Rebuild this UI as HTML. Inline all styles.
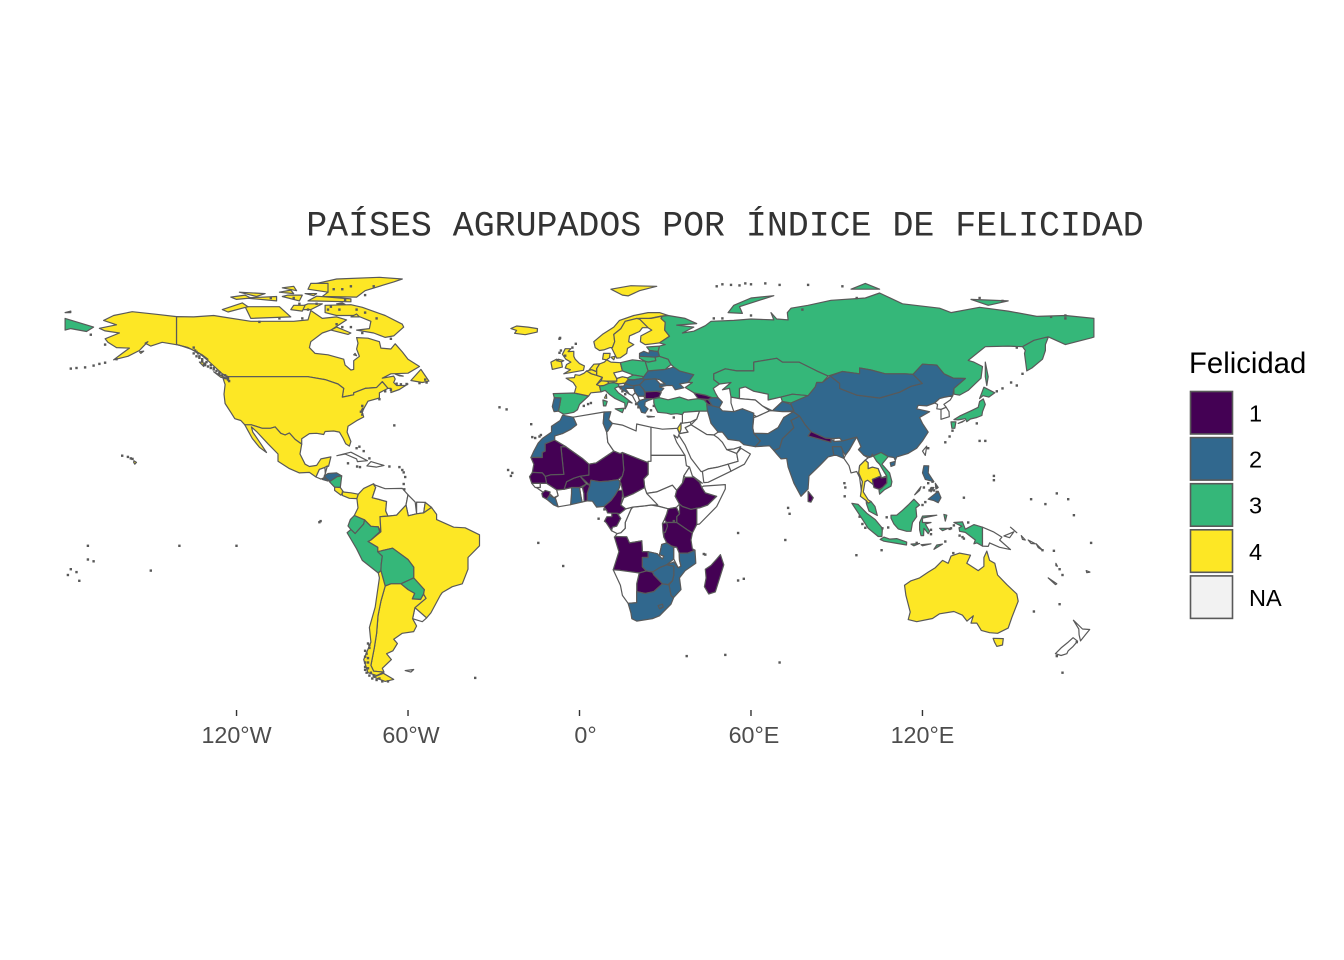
<!DOCTYPE html>
<html lang="es">
<head>
<meta charset="utf-8">
<title>Países agrupados por índice de felicidad</title>
<style>
html,body{margin:0;padding:0;background:#fff;}
svg{display:block;}
text{font-family:"Liberation Sans",sans-serif;}
</style>
</head>
<body>
<svg id="chart" width="1344" height="960" viewBox="0 0 1344 960" xmlns="http://www.w3.org/2000/svg">
  <rect width="1344" height="960" fill="#ffffff"/>
  <text x="725" y="235.5" text-anchor="middle" style="font-family:'Liberation Mono',monospace;font-size:34.9px" fill="#333">PAÍSES AGRUPADOS POR ÍNDICE DE FELICIDAD</text>
  <g id="map"></g>
  <g id="xaxis"></g>
  <g id="legend">
    <text x="1189" y="373" style="font-size:29.3px" fill="#000">Felicidad</text>
  </g>
</svg>
<script>
const legendLabels = ["1","2","3","4","NA"];
const legendColors = ["#440154","#31688E","#35B779","#FDE725","#F2F2F2"];
const tickLongitudes = [-120,-60,0,60,120];
const tickLabels = ["120°W","60°W","0°","60°E","120°E"];

const felicidad = {
  Mali:1,Mauritania:1,Senegal:1,Niger:1,Chad:1,BurkinaFaso:1,Benin:1,SierraLeone:1,Cameroon:1,Gabon:1,Ethiopia:1,Kenya:1,Uganda:1,Tanzania:1,Rwanda:1,Angola:1,Botswana:1,Madagascar:1,Bulgaria:1,Georgia:1,Armenia:1,Nepal:1,SriLanka:1,Cambodia:1,
  Morocco:2,Tunisia:2,Liberia:2,Ghana:2,Nigeria:2,Zambia:2,Zimbabwe:2,Mozambique:2,SouthAfrica:2,Lesotho:2,Portugal:2,Greece:2,Latvia:2,Hungary:2,Ukraine:2,Romania:2,Croatia:2,Serbia:2,Azerbaijan:2,Tajikistan:2,Iran:2,Pakistan:2,India:2,Bangladesh:2,China:2,Mongolia:2,Hainan:2,Philippines:2,Honduras:2,ElSalvador:2,
  Russia:3,Kazakhstan:3,Kyrgyzstan:3,Spain:3,Italy:3,Poland:3,Slovakia:3,Estonia:3,Lithuania:3,Belarus:3,Turkey:3,Vietnam:3,Malaysia:3,Indonesia:3,Japan:3,Nicaragua:3,Ecuador:3,Peru:3,Bolivia:3,Paraguay:3,
  USA:4,Canada:4,Mexico:4,CostaRica:4,Panama:4,Colombia:4,Brazil:4,Argentina:4,Chile:4,FrenchGuiana:4,France:4,Germany:4,Belgium:4,Netherlands:4,Switzerland:4,Austria:4,Denmark:4,UK:4,Ireland:4,Iceland:4,Norway:4,Sweden:4,Finland:4,Israel:4,Thailand:4,Australia:4
};

const shapes = {
Canada:"-141,69.6 -135,69.5 -128,70 -125,69.5 -115,68 -108,68 -100,68 -95,68.5 -94,71.7 -90,69 -85,69.5 -81.5,68.5 -87,65 -90,64 -94,61 -94.5,59 -92.5,57 -88,56.5 -82.5,55 -82,53 -80,51.3 -79,51.5 -79,54.5 -77,56 -78,58.5 -77.5,60.5 -78,62.4 -74,62.2 -70,61 -69.5,58.8 -66,58.5 -64.5,60.3 -62,57.5 -60,55 -56,52.5 -60,50.2 -66,50 -69,48.5 -65,49.2 -64.5,48.2 -65,47 -64,46 -61,46 -60,46.5 -63,44.6 -66,43.6 -66,45 -67,45 -69,47.3 -71,45.3 -75,45 -79,43.5 -79,42.8 -83,42 -82.5,45 -84.5,46.5 -89,48 -95,49 -123,49 -125,50 -130,54.5 -133,57 -137,59 -141,60|-80,73.7 -76,72.8 -68,70 -62,67 -61.5,66 -65,63 -68,62.5 -72,64 -78,65 -73.5,65.5 -73,68 -78,70 -85,70 -89,71 -89,73.5|-117,73 -105,73 -101,69.5 -115,69|-125,72 -118,74.3 -116,73 -123,71.2|-90,76.5 -78,76.3 -75,78.5 -65,81.5 -62,82.5 -70,83.1 -85,82.5 -92,81 -88,78|-95,75 -80,74.7 -80,75.7 -92,76.6|-95,79 -88,78 -88,81 -94,81|-95,74 -90,74 -94,72 -100,72|-117,76 -106,75 -106,76.5|-104,76.5 -98,75 -97,77 -102,77|-122,76.3 -117,77 -115,76 -120,75.5|-119,78 -110,77.5 -113,76.5|-104,79.5 -99,78.5 -100,80|-87,65 -81,63.5 -80,64 -85,66|-59,47.7 -55.5,51.5 -52.7,47.5 -55,47|-128,50.7 -123.5,48.4 -125.5,48.8|-133,54 -131.7,54 -131.5,52.5|-64.5,49.9 -61.7,49.2 -63,49.3|-80,69.5 -77,69.5 -78,70.5|-100,73.5 -96,73.5 -97,71.5 -101,72|-96,77.5 -92,77.5 -93,76.8|-79,56.5 -78,56.2 -78.5,57|-105,78 -100,77.5 -101,78.7|-85,74 -82,73.8 -83,74.3",
USA:"-123,49 -95,49 -89,48 -84.5,46.5 -82.5,45 -83,42 -79,42.8 -79,43.5 -75,45 -71,45.3 -69,47.3 -67,45 -70,43.5 -70,41.7 -74,40.6 -75.5,38 -76,36.8 -75.5,35.2 -78,33.9 -81,32 -81.3,30 -80,26.8 -80.5,25.2 -81.8,26 -82.8,28 -84,30 -86,30.4 -89,30.2 -89.5,29.2 -92,29.6 -94.5,29.5 -97.2,27.7 -97.2,25.9 -99.5,27.5 -101.5,29.7 -103,29 -104.5,29.6 -106.5,31.8 -108.2,31.3 -111,31.3 -114.8,32.5 -117.1,32.5 -118.5,34 -120.6,34.6 -122,36.8 -124,39.8 -124.4,43 -124,46.3 -124.7,48.4 -123,48.2|-141,69.6 -141,60 -137,59 -133,57 -130,55 -132,56.5 -136,58.5 -140,59.8 -146,60.8 -150,59.5 -152,60.5 -151,61 -153,59 -154,58 -158,56 -163,54.8 -160,57 -157.5,58.8 -162,59 -165,60.8 -166,62 -161,64 -166,64.7 -168,65.6 -162,66.8 -166.5,68.3 -163,70 -156.5,71.3 -148,70.4|-155.9,20.2 -155,19.6 -155.6,19 -156,19.6|-154,57.5 -152.5,57.8 -153.5,57",
Mexico:"-117.1,32.5 -114.8,32.5 -111,31.3 -108.2,31.3 -106.5,31.8 -104.5,29.6 -103,29 -101.5,29.7 -99.5,27.5 -97.2,25.9 -97.8,22.5 -96,19 -94.5,18.2 -92,18.6 -90.5,20.8 -87,21.5 -87.8,18.3 -89.1,17.9 -91,17.2 -92.2,14.6 -94.5,16.2 -98,16 -101.5,17.5 -105.5,20 -105.5,22.5 -109,26 -112.8,30 -114.8,31.8 -114.3,30 -111.5,26 -109.5,23 -112,24.8 -114.5,27.8 -116,30.5",
Guatemala:"-92.2,14.6 -91,17.2 -89.1,17.9 -88.9,15.9 -89.5,14.3 -90.5,13.9",
Belize:"-89.1,17.9 -88.2,18.4 -88.9,15.9",
Honduras:"-89.3,15 -88,15.8 -85,16 -83.2,15 -84.8,14.7 -87.3,13.1 -88.5,14",
ElSalvador:"-90,13.8 -88,13.2 -87.8,13.5 -89.3,14.4",
Nicaragua:"-87.5,13 -84.8,14.7 -83.2,15 -83.7,11 -85.7,11.1",
CostaRica:"-85.7,11.1 -83.7,11 -82.6,9.5 -83.5,8.4 -85.7,10",
Panama:"-83,9.5 -80,9.2 -77.4,8.7 -77.9,7.2 -80.5,7.3 -83,8.3",
Colombia:"-77.4,8.7 -75.5,10.7 -72,12.3 -71.3,11 -72.5,7.5 -70,6.9 -67.5,6.2 -67.8,3 -67,1.2 -69.8,1 -69.5,-4.2 -70.4,-2.5 -73,-2.3 -75.2,-0.1 -78.8,1.4 -77.5,4 -77.9,7.2",
Venezuela:"-72,12 -71.3,11 -72.5,7.5 -70,6.9 -67.5,6.2 -67.8,3 -67,1.2 -64,1.5 -60.7,5 -60,8.5 -62,10.7 -68,10.6",
Guyana:"-60,8.5 -60.7,5 -59.9,1.3 -57,2 -57.5,6",
Suriname:"-57,6 -57,2 -54.5,2.3 -54,5.9",
FrenchGuiana:"-54,5.9 -54.5,2.3 -51.8,4.2",
Brazil:"-51.8,4.2 -54.5,2.3 -57,2 -59.9,1.3 -60.7,5 -64,1.5 -67,1.2 -69.8,1 -69.5,-4.2 -73,-7 -74,-7.5 -70.6,-9.5 -70.6,-11 -65.4,-9.8 -60,-13.7 -58,-16.3 -58,-20 -54.3,-24 -54.6,-25.6 -53.7,-27 -57.6,-30.2 -53.5,-33.7 -52,-32 -48.7,-26 -48,-25 -44.5,-23 -41,-22 -39,-17 -39,-13 -35,-9 -35,-5.2 -40,-2.8 -44,-2.6 -50,0 -50,1.8",
Ecuador:"-75.2,-0.1 -78.8,1.4 -80.2,0 -81,-2.2 -80,-3.4 -78.5,-4.8 -75.5,-1.5",
Peru:"-81.3,-4.5 -80,-3.4 -78.5,-4.8 -75.5,-1.5 -75.2,-0.1 -73,-2.3 -70.4,-2.5 -69.9,-4.2 -73,-7 -74,-7.5 -70.6,-9.5 -70.6,-11 -69,-12.5 -69.4,-15.5 -69.5,-17.5 -70.4,-18.3 -76,-14 -78,-10 -79.8,-7",
Bolivia:"-70.6,-11 -65.4,-9.8 -60,-13.7 -58,-16.3 -58,-20 -62.5,-22 -66,-22 -68,-22.8 -69.5,-17.5 -69.4,-15.5 -69,-12.5",
Paraguay:"-58,-20 -54.3,-24 -54.6,-25.6 -55.6,-27.4 -58.5,-27.2 -57.7,-25.3 -60,-24 -62.5,-22",
Uruguay:"-57.6,-30.2 -53.5,-33.7 -55,-35 -58.4,-34",
Argentina:"-66,-22 -62.5,-22 -60,-24 -57.7,-25.3 -58.5,-27.2 -55.6,-27.4 -54.6,-25.6 -53.7,-27 -57.6,-30.2 -58.4,-34 -57,-36.5 -58,-38.4 -62,-39 -65,-41 -63.7,-42.5 -65.3,-45 -67.5,-46 -65.8,-48 -69,-51 -68.4,-52.3 -72,-52 -73,-50 -71.8,-44 -71,-39 -70.5,-33 -69.5,-28 -68,-22.8",
Chile:"-69.5,-17.5 -68,-22.8 -69.5,-28 -70.5,-33 -71,-39 -71.8,-44 -73,-50 -72,-52 -68.4,-52.3 -71,-53.5 -74,-52.5 -75.5,-48 -73,-42 -73.5,-37 -71.5,-30 -70,-20 -70.4,-18.3|-68.6,-52.7 -65,-54.8 -68,-55.5 -72,-54",
Falklands:"-61,-51.8 -58,-51.4 -59,-52.3",
Cuba:"-84.9,21.9 -80,23.1 -74.2,20.2 -77.7,19.9 -78,20.8 -82,22.5",
Hispaniola:"-74.4,18.4 -73,19.9 -68.4,18.6 -71,18",
Algeria:"-2.2,35.1 8.6,36.9 8.3,33 9.5,30 9.9,26.5 12,23.5 5.8,19.4 3.3,19 1.2,20.8 -4.8,25 -8.7,27.3 -8.7,28.7 -6,29.5 -3,31 -1,32.5",
Morocco:"-5.9,35.8 -2.2,35.1 -1,32.5 -3,31 -6,29.5 -8.7,28.7 -8.7,27.3 -12,26 -12,23.5 -13,23 -13,21.3 -17,21.3 -16,23.5 -14.5,26.2 -13,27.8 -9.8,30 -9.8,32 -6.8,34",
Tunisia:"8.6,36.9 11,37 10.2,34.3 11.5,33 10,30.5 9.5,30 8.3,33",
Libya:"11.5,33 15,32.4 19.8,30.4 20,32.8 25,31.7 25,20 24,19.5 15,23 14.2,22.6 12,23.5 9.9,26.5 9.5,30 10,30.5",
Egypt:"25,31.7 29,31 32.5,31.2 34.2,31.3 35,29.5 34.3,28 33,29 34,26.5 36.9,22 25,22",
Sudan:"25,22 36.9,22 37.4,18.5 38.5,18 36.5,15 36,12.5 34,10 32.5,11.8 27,9.5 23.5,9 22.8,11 22.5,14 24,15.5 24,20 25,20",
SouthSudan:"23.5,9 27,9.5 32.5,11.8 34,10 33.5,8 35,5.3 33.9,4.2 31,3.7 28,4.5 25,5",
Eritrea:"36.5,15 38.5,18 39.5,15 43,12.5 42,12.8 40,14.5 37,14.5",
Ethiopia:"36,12.5 37,14.5 40,14.5 42,12.8 42.8,11 44,9.2 48,8 44.9,5 42,4 41,3.9 39,3.5 36,4.5 35,5.3 33.5,8 34,10",
Somalia:"42.8,11 43.3,11.5 51,12 51,10.5 48,4.5 42,-1.5 41,-1.7 41,3.9 42,4 44.9,5 48,8 44,9.2",
Kenya:"35,5.3 36,4.5 39,3.5 41,3.9 41,-1.7 39.5,-4.6 37.7,-3.5 34,-1 34,1 35,2",
Uganda:"31,3.7 33.9,4.2 35,2 34,1 34,-1 30.5,-1 29.7,0 30.5,2",
Tanzania:"30.5,-1 34,-1 37.7,-3.5 39.5,-4.6 39,-7 39.5,-10 40.4,-10.5 38,-11.5 34.9,-11.5 34,-9.5 32,-9 30.5,-8 29.5,-6 29.5,-3.5",
Rwanda:"29,-1.4 30.5,-1 30.8,-2.3 30,-4.4 29.2,-4.3",
DRCongo:"12.2,-6 13.2,-4.8 14.5,-4.5 16,-3 16,-1 18,3.5 18.6,4.3 22.8,4.7 25,5 28,4.5 31,3.7 30.5,2 29.7,0 29,-1.4 29.2,-4.3 29.5,-6 30.5,-8 28.8,-8.5 28,-12 29.5,-12.5 29,-13.5 27.2,-11.7 24,-11 22,-11 21.8,-7.3 17.5,-8 16.5,-5.9",
Congo:"11.2,-3.8 13.2,-4.8 14.5,-4.5 16,-3 16,-1 18,3.5 18.6,4.3 16.2,3.7 14,2 13.2,2.2 14.4,0.4 13,-2.2 11.5,-2.6",
Gabon:"9.3,-1 8.7,-0.6 9.6,1 11.3,1 11.3,2.2 13.2,2.2 14.4,0.4 13,-2.2 11.5,-2.6 11.2,-3.8",
Cameroon:"8.5,4.5 9.6,3 9.8,2.3 11.3,2.2 13.2,2.2 14,2 16.2,3.7 14.5,5 15,8 15,10 13.5,10 14.5,12.5 14.2,13 14,11 12.5,8.5 11,6.5",
CAR:"14.5,5 16.2,3.7 18.6,4.3 22.8,4.7 25,5 27.4,5 23.5,9 22.8,11 19,9 15.5,7.5",
Chad:"14,13 15,15 15.5,17 15,23 24,19.5 24,15.5 22.5,14 22.8,11 19,9 15.5,7.5 15,10 14.5,12.5",
Niger:"0.2,14.9 3.5,11.9 3.6,11.7 4,13.5 7,13 10,13.2 13.5,13.7 15,15 15.5,17 15,23 14.2,22.6 12,23.5 5.8,19.4 3.3,19 3.3,15.3",
Nigeria:"2.7,6.4 4.5,6.3 6,4.3 8.5,4.5 11,6.5 12.5,8.5 14,11 14.2,13 13.5,13.7 10,13.2 7,13 4,13.5 3.6,11.7 2.7,9",
Benin:"1.6,6.2 2.7,6.4 2.7,9 3.6,11.7 2.4,12.2 1,11 1.5,9",
Togo:"0.9,6 1.6,6.2 1.5,9 1,11 0,11 0.5,8",
Ghana:"-3.1,5.1 0.9,6 0.5,8 0,11 -2.8,11 -2.8,9",
IvoryCoast:"-7.5,4.4 -3.1,5.1 -2.8,9 -2.8,11 -5.4,10.4 -8,10.2 -7.5,8.2 -8.5,7.5",
BurkinaFaso:"-5.4,10.4 -2.8,11 0,11 2.4,12.2 0.2,14.9 -2,14.2 -4.5,13",
Mali:"-12,14.8 -11.5,12.4 -8,10.2 -5.4,10.4 -4.5,13 -2,14.2 0.2,14.9 3.3,15.3 3.3,19 1.2,20.8 -4.8,25 -6.5,25 -5.5,15.5 -10,15.4",
Mauritania:"-17,21.3 -13,21.3 -13,23 -12,23.5 -12,26 -8.7,27.3 -4.8,25 -6.5,25 -5.5,15.5 -10,15.4 -12,14.8 -13,16 -16.5,16.2 -16,19",
Senegal:"-16.5,16.2 -13,16 -12,14.8 -11.5,12.4 -16.7,12.4 -17.5,14.7",
GuineaBissau:"-16.7,12.4 -13.7,12.4 -13.7,11 -15.5,11",
Guinea:"-13.7,12.4 -11.5,12.4 -8,10.2 -7.5,8.2 -9,7.5 -10,8.5 -12.9,9.5 -15,10.9 -13.7,11",
SierraLeone:"-13.2,9 -12,10 -10.3,9.5 -10.5,8.3 -11.5,7 -12.9,7.8",
Liberia:"-11.5,7 -10.5,8.3 -9,7.5 -8.5,7.5 -7.5,4.4 -9,5",
Angola:"11.8,-17.2 13.8,-11 12.2,-6 13,-5.8 16.5,-5.9 17.5,-8 21.8,-7.3 22,-11 24,-11 24,-13 22,-13 22,-16.2 23.4,-17.6 20.9,-18.3 14,-17.4",
Zambia:"22,-13 24,-13 24,-11 27.2,-11.7 29,-13.5 29.5,-12.5 28,-12 28.8,-8.5 30.5,-8 32,-9 33,-9.5 33,-13.5 30.5,-15.5 28,-16.5 26,-18 23.4,-17.6 22,-16.2",
Malawi:"33,-9.5 34,-9.5 34.9,-11.5 35,-14 35.5,-16 34.5,-16.5 33,-13.5",
Mozambique:"40.4,-10.5 38,-11.5 34.9,-11.5 35,-14 35.5,-16 34.5,-16.5 33,-14.5 30.5,-15.5 33,-16 33,-19 32.5,-21 31.3,-22.4 32,-26 32.9,-26.8 35.5,-24 35,-20 37,-17.5 40.7,-15",
Zimbabwe:"25.5,-18 28,-16.5 30.5,-15.5 33,-16 33,-19 32.5,-21 31,-22.3 29,-22 26,-19",
Botswana:"20,-22 20.9,-18.3 23.4,-17.6 25.5,-18 26,-19 29,-22 26,-24.7 23,-25.3 20,-24.7",
Namibia:"11.8,-17.2 14,-17.4 20.9,-18.3 20,-22 20,-28.5 17,-28.7 15,-26 14.3,-22.5",
SouthAfrica:"17,-28.7 20,-28.5 20,-24.7 23,-25.3 26,-24.7 29,-22 31.3,-22.4 32,-26 32.9,-26.9 32,-29 28,-33 25.5,-34 20,-34.8 18.3,-34 18,-32",
Lesotho:"27.5,-29.5 29,-29 29.3,-30 28,-30.6",
Madagascar:"49.3,-12 50.5,-15.5 47.5,-24.8 45.2,-25.5 43.7,-23 44.3,-20 44,-17 46,-15.7 48,-13.5",
Spain:"-9.2,43.2 -1.8,43.4 3.2,42.4 0,39.5 -0.7,37.7 -2,36.8 -5.5,36.1 -7.4,37.2 -7,39 -6.5,41.7 -8.8,41.8",
Portugal:"-8.8,41.8 -6.5,41.7 -7,39 -7.4,37.2 -8.9,37 -9.5,38.8",
France:"-1.8,43.4 3.2,42.4 4,43.5 7.5,43.8 7,45.9 6,46.3 8,48.8 6,49.5 4.2,50 2.5,51 1.6,50.2 0,49.5 -1.5,49.7 -1.8,48.7 -4.7,48.5 -2.2,47 -1.2,45.5|9.4,43 9.5,41.6 8.7,41.7",
Italy:"7,45.9 7.5,43.8 9,44.3 10.5,42.9 12.5,41.5 15.8,40 16,38 16.5,39 17,40.4 18.4,40 15.9,41.9 13.6,43.5 12.3,45 13.7,45.7 13.7,46.5 12,47 10.4,46.8 8.5,46|8.2,41 9.7,40.5 9.2,39 8.4,39|12.5,38 15.6,38.2 15,36.7",
Switzerland:"6,46.3 7,45.9 8.5,46 10.4,46.8 9.6,47.5 7.6,47.6",
Austria:"9.6,47.5 10.4,46.8 12,47 13.7,46.5 16,46.8 17,48 16.9,48.6 15,49 13,48.4 13,47.5",
Germany:"6,49.5 8,48.8 7.6,47.6 9.6,47.5 13,47.5 13,48.4 12,50.3 15,51 14.3,53.8 11,54 9.5,54.8 8.7,54 7,53.4 6,51.8",
Belgium:"2.5,51 4.2,50 6,49.5 6,50.7 4.3,51.4",
Netherlands:"3.4,51.4 4.3,51.4 6,50.8 6,51.8 7,53.4 5,53.3",
Denmark:"8.1,55 9.5,54.8 10.5,55.5 10.7,57 8.4,57|11,55.7 12.5,56 12,54.8",
UK:"-5.5,50 1.4,51.2 1.7,52.7 0,53.5 -1.5,55 -2,56 -2,57.7 -4,57.6 -3,58.6 -5,58.6 -6,56.7 -4.8,55 -3,54 -4.5,53.2 -5,52 -3.2,51.4|-7.4,55 -5.5,54.5 -6.3,54.1 -8,54.5",
Ireland:"-6.3,54.1 -6,52.3 -9.5,51.5 -10,54 -8,55 -7.4,54.8 -8,54.5",
Iceland:"-24,65.5 -22,66.4 -18,66 -14.7,65.5 -14.8,64.3 -19,63.4 -22.7,63.9 -22,64.9",
Norway:"5,61 5.5,59 7,58 8.5,58.2 10.7,59 11.5,59 12.3,61 12,63.5 14.5,65.5 16,68 20,69 23,68.7 28.5,69.8 31,70 28,71 24,71 19,70 14,68.3 12,66 8,63.5|11,79 15,77 17,76.7 21,78.5 27,80 18,80.2",
Sweden:"11.2,59 13,55.4 14.3,55.5 16.5,57 16.8,58.7 19,60 17.2,61 17.5,63 21,64.5 22,65.8 24,65.8 23.5,68 20,69 16,68 14.5,65.5 12,63.5 12.3,61 11.5,59",
Finland:"23,60 25.5,60.3 28,60.6 31.5,62.9 29.8,65 30,67.7 28.5,69 29,69.8 25,69 20.8,69 24,65.8 25.3,65 21.5,63 21.3,61",
Estonia:"23.5,59.2 28,59.5 27.5,57.6 24.5,58",
Latvia:"21,57 22.5,57.7 24.3,57 24.5,58 27.5,57.6 28,56 26.5,55.7 21,56",
Lithuania:"21,56 26.5,55.7 26.7,54.5 24,54 23,54.3 21,55.3",
Poland:"14.3,53.8 18.5,54.8 23,54.3 24,51 22.5,49 18.8,49.6 15,51",
Czechia:"12,50.3 15,51 18.8,49.6 17,48.6 15,49 13,48.4",
Slovakia:"17,48 16.9,48.6 18.8,49.6 22.5,49 22,48.4 18.8,47.9",
Hungary:"16,46.8 17,48 18.8,47.9 22,48.4 22.8,48 21,46.2 18,45.8",
Ukraine:"24,51 30,51.5 33,52.3 35,51 40,49.7 38,47 35,46.5 36.5,45.2 33.5,44.5 32.5,46 30.5,46 28,45.5 28.2,46.5 26.5,48.3 22.8,48 22,48.4 22.5,49",
Belarus:"23,54.3 24,54 26.7,54.5 26.5,55.7 28,56 31,55 32,53.2 30,51.5 24,51",
Moldova:"26.5,48.3 28.2,46.5 30,46.5 28,48",
Romania:"21,46.2 22.8,48 26.5,48.3 28.2,46.5 28,45.5 29.5,45 28.6,44 27,44 23,43.8 22.5,44.5",
Bulgaria:"23,43.8 27,44 28.6,43.6 27.8,42 26,41.5 23,41.4",
Slovenia:"13.7,45.7 13.7,46.5 16,46.8 15.5,45.8",
Croatia:"13.7,45.5 15.5,45.8 16,46.5 19,45.8 19,45 16,45 17.5,43 15,44.5",
Bosnia:"16,45 19,45 19.5,43.5 18.5,42.5 17.5,43",
Serbia:"19,45.9 21,46.2 22.5,44.5 23,43 22.5,42.3 20.5,42.3 19.5,43.5 19,45",
Albania:"18.5,42.5 19.5,43.5 20.5,42.3 21,40.8 20,39.7 19.3,41",
Macedonia:"20.5,42.3 22.5,42.3 23,41.4 21,40.8",
Greece:"20,39.7 21,40.8 23,41.4 26,41.5 24,40.8 23,40.3 22.8,39 24,38 23,36.5 21.7,36.8 21,38.5|23.6,35.5 26.2,35.3 24,35.1",
Turkey:"26,40 26,41.5 28,41.8 31,41.1 35,42 38,41 41.5,41.5 43.7,41 44.7,39.7 44.8,37.2 42,37.2 36.5,36.8 36,36 34,36.3 32,36.1 30.5,36.5 27.4,36.8 26.5,38.5",
Georgia:"40,43.5 44,42.7 46.5,41.8 45,41.2 41.5,41.5",
Armenia:"43.7,41 45,41.2 46.5,39 44.8,39.7",
Azerbaijan:"45,41.2 46.5,41.8 48.5,41.8 50,40.3 48.9,38.4 46.5,39",
Russia:"28,56 31,55 32,53.2 33,52.3 35,51 40,49.7 38,47 39.5,47 37,45.3 40,43.5 44,42.7 46.5,41.8 48.5,41.8 47.5,43.5 46.8,45 49,46.5 47,48 47,50 51,51.7 55,51 61,51 61,54 69,55.3 71,54 76.8,54 83,51 87,49.2 92,50.8 98,50 98,52 102,51.3 107,50 114,50 116.7,49.8 120,53.3 125,53 127.5,50 130.8,48.5 135,48.4 131,45 131,43 133,42.7 136,44.3 140.5,48.5 141,52.5 138,54 136,54.6 142,59.3 150,59.5 155,59.3 159,61.5 163,62.5 164,62.5 163,60 163,58 162,55 158.3,52 156.5,51 155.7,57 156,58 155,59.3 159,61.5 164,62.7 170,60 179,62.3 180,62.6 180,69 170,70 160,69.7 150,71.5 140,72.8 130,71 126,72.5 113,74 105,77.7 100,76 88,75.2 80,73.5 74,72.5 72.7,71 73,68.5 69,68.8 67,71 68,68.5 60,68.8 54,68.3 46,68 44,66.5 40,64.6 36,64 40,66 34,66.7 41,67.2 37,69 31,70 29,69.8 28.5,69 30,67.7 29.8,65 31.5,62.9 28,60.6 30,60 28,59.5 27.5,57.6|-180,69 -170,66 -172.5,64.5 -178,65.5 -180,65|-180,71 -178,71.5 -178,71|52,71 57,70.7 56,73 68,76.8 60,76 54,73.5|95,79 105,79 100,81|137,75.5 150,75 143,73.5|142,54 143,49 142.5,46 142,49",
Kazakhstan:"47,48 47,50 51,51.7 55,51 61,51 61,54 69,55.3 71,54 76.8,54 83,51 87,49.2 85,47 83,47 82.5,45.5 80,42.5 74.5,43 70.5,42 66,41 66,43 61,44 58,45.5 56,45 56,41.5 53,42 52.5,45 50,44.5 53,47 49,46.5",
Uzbekistan:"56,45 58,45.5 61,44 66,43 66,41 70.5,42 71,40.5 67.5,37.3 64,39 61.5,41 56,41.5",
Turkmenistan:"53,42 56,41.5 61.5,41 64,39 66.5,37.3 62,35.3 57,38 54,37 53,40",
Kyrgyzstan:"70.5,42 74.5,43 80,42.5 74,40 71,40.5",
Tajikistan:"67.5,37.3 71,40.5 74,39.5 75,37.3 71,37",
Afghanistan:"61,35 60.6,31.5 61,29.6 66,29.5 69.5,31.5 71.5,35 74.8,37 71,37 67.5,37.3 66.5,37.3 62,35.3",
Iran:"44.5,39.5 46.5,39 48.9,38.4 50,37.3 54,37 57,38 61,36.5 60.6,31.5 61,29.6 63.3,27 61.5,25 57.5,25.7 56,27 52,27.5 50,30 48,30 46,33 44.8,37",
Iraq:"42,37.2 44.8,37.2 46,33 48.5,30 47,29 44.5,29.2 39,32.5 41,34.5",
Syria:"36,36 36.5,36.8 42,37.2 41,34.5 38.8,33.4 36,33",
Jordan:"35.5,33 38.8,33.4 39,32.5 37,31.5 38,30 35,29.5 35.5,31",
Israel:"34.3,31.3 35.5,33.2 35.5,31 35,29.5",
SaudiArabia:"34.7,29 35,29.5 38,30 37,31.5 39,32.5 44.5,29.2 47,29 48.5,28 50,26.5 51.5,24 55,22.7 55.5,20 52,19 48.5,18 45,17.4 43,16.5 42.5,16.5 39,21 37,25.5",
Yemen:"43,16.5 45,17.4 48.5,18 52,19 53,16.6 45,12.8 43.5,12.7",
Oman:"52,19 55.5,20 55,22.7 56.5,24.5 59.8,22.5 57.7,19 53,16.6",
UAE:"51.5,24 55,22.7 56.4,25 54,24.2",
Pakistan:"61,29.6 66,29.5 69.5,31.5 71.5,35 74.8,37 77,35.5 74,34 75,31.5 71,27.7 70,24.5 68,23.7 66.5,25.3 61.5,25 63.3,27",
India:"74,34 77,35.5 79,32.5 81,30.2 80,28.7 88,26.5 88,27.8 89,26.8 92,27 97,28.3 94.5,24 93,22 92,24 91.5,25 88.5,25 89,22 87,21.5 84,18.5 80.3,15 80,10.5 77.5,8 75,12.5 73,18 72.5,21 70.5,20.8 69,22.5 68,23.7 70,24.5 71,27.7 75,31.5",
Nepal:"80,28.7 81,30.2 86,28 88,27.8 88,26.5",
Bhutan:"89,26.8 92,27 91,28 89,27.8",
Bangladesh:"88.5,25 91.5,25 92,24 92.5,21 90,22 89,22",
SriLanka:"80,9.7 81.8,7.5 81,6 80,6.2",
China:"74,39.5 75,37.3 74.8,37 77,35.5 79,32.5 81,30.2 86,28 88,27.8 89,27.8 91,28 92,27 97,28.3 98.5,25 97.6,24 99.5,22 102,21.5 105.5,23 108,21.6 110,21.3 110.5,20.3 111,21.5 115,22.7 118,24.5 120,27 122,30 120,33 119,35 122.5,37 118,38 118.5,39.2 121.5,39 124.3,40 126,41.5 128,42 130.6,42.5 131,45 135,48.4 130.8,48.5 127.5,50 125,53 120,53.3 116.7,49.8 119.9,46.7 116,45.7 112,43.7 105,41.7 97,42.7 91,45 91,46.7 87.8,49.2 85,47 83,47 82.5,45.5 80,42.5 74,40",
Mongolia:"87.8,49.2 92,50.8 98,50 98,52 102,51.3 107,50 114,50 116.7,49.8 119.9,46.7 116,45.7 112,43.7 105,41.7 97,42.7 91,45 91,46.7",
Hainan:"108.7,19.5 110.5,20 110.3,18.7 109,18.2",
Taiwan:"121.5,25.2 121,22 120,23.5",
NorthKorea:"124.3,40 126,41.5 128,42 130.6,42.5 129.7,41 127.5,39.5 128.3,38.5 126.5,37.8 125,38 125.3,39.5",
SouthKorea:"126.5,37.8 128.3,38.5 129.3,37 129.4,35.3 126.5,34.4",
Japan:"131,34.3 133,35.5 137,37.3 139.5,38.5 140,40.5 141.3,41.4 142,39.5 141,37 140.8,35.7 139,35 136.8,34.5 135.5,33.6 135,34.6 132.5,34.2|140,41.5 141.5,45.4 145.3,43.5 143.2,42 141.2,42.5|130,33.5 131.7,33.5 131.3,31.3 130.3,31.3|132.5,33 134.7,34 134,33.5",
Myanmar:"92.5,21 93,22 94.5,24 97,28.3 98.5,25 97.6,24 99.5,22 101,21.2 100,20.4 98,18.5 97.7,16 99,13 98.6,10 98,14.5 97,16.5 95,16 94.3,18.5",
Thailand:"97.7,16 98,18.5 100,20.4 101,19.5 101,17.5 102.5,18 104.5,17.5 105.5,15 102.5,13.8 102.8,12 100.8,13.5 99.9,13 99.3,9.5 101,6.8 102,6.2 101,5.6 100.3,6.5 98.3,8 98.6,10 99,13",
Laos:"101,21.2 102,21.5 102.5,22.4 104,20 105,19 106.5,16.5 107.5,15 105.5,14.3 105.5,15 104.5,17.5 102.5,18 101,17.5 101,19.5 100,20.4",
Vietnam:"102,21.5 105.5,23 108,21.6 105.8,19 108.5,16 109.3,13 109,11.5 106.8,10.3 105,8.7 104.8,10 106,11 107.5,12.5 107.5,15 106.5,16.5 105,19 104,20 102.5,22.4",
Cambodia:"102.5,13.8 105.5,15 105.5,14.3 107.5,14.5 107.5,12.5 106,11 104.8,10.4 103,11 102.8,12",
Malaysia:"100.3,6.5 101,5.6 102,6.2 103.4,4.5 104.2,1.4 101.3,2.9 100.4,5.5",
Indonesia:"109,1.5 111,1.5 113,3.2 115,5 117,7 119,5 117.7,4 118,1 116.5,-1 116,-4 114.5,-4 111.5,-3.2 110,-1.5 109,0.5|95.3,5.6 97.5,5.2 100.5,2.2 103.5,0 106,-3 105.8,-5.8 104.5,-5.8 101,-3 98.7,0.5|105.2,-6.8 106.5,-6 108.5,-6.7 111,-6.5 114.5,-7.7 114.4,-8.7 110,-8 106.5,-7.4|119.5,-5.5 120.4,-5.5 120.5,-3 122,-4.8 122.5,-4 121,-1.5 123,-1 120,-1 120,0.5 125,1.5 120,1.2 119,-1 119,-3.5|131,-1 134,-0.8 135,-3.3 138,-1.7 141,-2.6 141,-9.1 139,-8 138,-8.3 138.5,-7 135,-4.4 133,-4 132.8,-2.8 133.8,-2.3|124,-10.2 127,-8.4 125,-8.7|116,-8.4 119,-8.2 117,-9|119.5,-8.6 123,-8.3 120,-9|127.5,1.8 128,-0.5 128.5,1.5|126,-3 129,-3 127,-3.8",
PapuaNewGuinea:"141,-2.6 145,-4.3 147.8,-6 147,-7 150.8,-10.3 147,-9.5 143.5,-8 143,-9.2 141,-9.1|148.5,-5.6 152,-4.2 150.5,-6.2|150.8,-2.6 153,-4.5 152,-3.6",
Philippines:"120.5,18.5 122.2,18.4 122,16 124,13 121,13.8 120,16|122,7 125.5,9.7 126.5,7.5 125.5,5.8 124,6.5|123,11 124,11 123,9.5|117.3,8.5 119.5,11.3 119,10|124.5,12.5 125.5,11 124.7,10.5",
Australia:"113.7,-22.5 114.2,-26 115.7,-31.7 115,-34.3 118,-35 123.5,-33.9 126,-32.3 131,-31.5 134,-32.8 135.6,-34.8 137.8,-33 137,-35.5 139,-35.5 140.6,-38 143.5,-38.8 146.3,-39 150,-37.2 151.3,-33.5 153.5,-28 153,-25.5 149.5,-22.3 146.3,-19 145.3,-15 143.5,-14 142.5,-10.8 141.5,-13 141.5,-16 139.5,-17.5 135.5,-15 136.8,-12.2 133,-11.5 130,-12.5 129,-15 127,-14 124.5,-16.5 122,-18 119,-20 116,-21|144.7,-40.7 148.3,-40.8 148,-43 146,-43.5 145.2,-42",
NewZealand:"172.8,-34.5 176,-37.5 178.5,-37.7 177,-39.5 175.3,-41.6 174.8,-39.5 174.7,-37.5|172.7,-40.5 174.3,-41.7 172.7,-43.5 171,-45 170.5,-46 168.5,-46.6 166.5,-46 168.5,-44 171,-42",
Melanesia:"164,-20 167,-22 166.5,-22.3|177.3,-17.5 178.6,-18 177.5,-18.2|154.6,-5.5 156,-7 155,-6.8|157,-7 159.5,-8.3 158,-8.2|159.8,-8.3 162,-10.5 160.5,-9.6|166.7,-15 167.2,-16 166.7,-15.8"
};

const islets = [
"-176,52","-173,52.2","-170,52.8","-168,53.4","-166,53.8","-162,55","-178,51.8","-171,63.4","-166,60","-160,21.9","-158,21.5","-157,21","-156.4,20.8",
"-135,59","-134.5,58","-134,57.5","-133.5,57","-135,57","-134,56","-133,56","-133,55.5","-132,55","-132,54.5","-131,53.5","-131,53","-130,52.5","-130.5,54","-129,53","-129,52","-128,52","-128,51.5","-127,51","-126,50.5","-126,50","-125,49.5","-124,49.5","-123.5,49","-123,48.8","-123,48","-122.6,47.5",
"-76,39","-75.8,38","-76.5,37","-76,36","-76,37.5","-70,41.3","-68,44","-66,44.5","-64,46.6","-62.5,46.4","-60.5,46.5","-54,48","-53.5,47","-56,46.8",
"-77.8,18.2","-76.8,18","-66.5,18.2","-78,24.5","-77,25","-75.5,23.5","-73.5,21","-61.5,16.2","-61,14.6","-61.5,12.2","-61.3,10.4","-63,18","-62,17","-81,19.3",
"-100,76","-95,72","-88,72","-87,73","-84,72","-78,72","-75,71","-71,69","-83,66","-85,67","-97,69","-105,69","-112,67.8","-80,66","-76,64","-66,62","-108,76","-92,74","-98,74","-86,79","-83,79","-80,80","-72,80","-75,77","-82,75.3",
"-90.6,-0.5","-91,-0.9","-64.8,32.3","-120,-9","-140,-9","-150,-17.5","-172,-13.7","-175,-21",
"-75,-45","-74.5,-46","-74,-47.5","-75,-49","-75,-50.5","-75,-51.5","-74.5,-52.5","-73.5,-53.5","-72.5,-54.5","-71,-55","-69,-55.5","-67,-55.5","-73.5,-44","-73.5,-43","-74,-42.5","-36.5,-54.3","-75,-47","-74,-49","-74,-51","-73,-52.5","-72,-53.5","-70,-54.5",
"-25.5,37.8","-28,38.5","-16.9,32.7","-16.5,28.3","-15.5,28","-14,28.5","-13.5,29","-24,15","-23.5,16","-25,17","-7,62","-6.8,62.3","-6.5,58","-2.5,59","-1.3,60.3","-5,56.2","-7,57.2",
"3,39.6","1.5,39","4,40","33,35","25,37.5","26,39","19.8,39.6","20.6,38.5","16,43","14.5,45","15,44","33,-.5",
"55.5,-20.9","57.5,-20.3","44,-12","43.5,-11.8","55.5,-4.6","73,4","73.5,2","6.7,0.3","8.7,3.5","-5.7,-15.9","-14.4,-8",
"53,80.5","56,80.3","60,80.7","48,80","65,81","70,80.5","80,80.5","92,80","97,76","78,72","58,81","50,80.7","47,69","50,69","60,70","165,69.5","170,69","148,75","140,76","153,59","170,70",
"92.7,12.5","93,11","92.8,8","106,-3","108,-2.7","107.5,0.8","118,-8","123,-5","123,-3.5","131,-2","134,-6","136,-1","130,-3","133,-5.5","128,-7.5","134.5,-6.5","130.8,-11.5","129.5,-3.2","98,1","99,-1.5","100,-2.8",
"134.5,7.5","145,15","145,13.5","158,7","163,5.3","171,7","167,9","173,1.5","179,-8","-172,-9","-176,-18","-178,-17","-179,-19","162,-10.5","166,-10.7","168,-17","169,-19","159,-31.5","168,-29","174,-42",
"122,24.5","128,26.5","129.5,28.5","130.5,30.5","139,33","140,27","142,27","153,46","148,45","146,44","155,50","151,47","120.5,11","122,12.5","125,9.5","121,6","120,5","123,10.5","122.5,10","124,10","125,11","123.5,13",
"105.7,-10.5","96.9,-12.2","72,-7","167,-46.8","169,-52.5","70,-49","51,-46.4","37.5,-46.8","-170,-14.3"
];

const x = lon => 579.5 + 2.858 * lon;
const y = lat => 519.6 - 2.916 * lat;
const NS = "http://www.w3.org/2000/svg";
const OUTLINE = "#595959";
const mapGroup = document.getElementById("map");
const axisGroup = document.getElementById("xaxis");
const legendGroup = document.getElementById("legend");

function fillFor(name){
  const g = felicidad[name];
  return g ? legendColors[g - 1] : "#ffffff";
}

Object.keys(shapes).forEach(function(name){
  shapes[name].split("|").forEach(function(part){
    const pts = part.trim().split(/\s+/).map(function(p){
      const c = p.split(",");
      return x(+c[0]).toFixed(1) + "," + y(+c[1]).toFixed(1);
    }).join(" ");
    const el = document.createElementNS(NS, "polygon");
    el.setAttribute("points", pts);
    el.setAttribute("fill", fillFor(name));
    el.setAttribute("stroke", OUTLINE);
    el.setAttribute("stroke-width", "1.2");
    el.setAttribute("stroke-linejoin", "round");
    
    
    mapGroup.appendChild(el);
  });
});

islets.forEach(function(s){
  const c = s.split(",");
  const el = document.createElementNS(NS, "rect");
  el.setAttribute("x", (x(+c[0]) - 1.2).toFixed(1));
  el.setAttribute("y", (y(+c[1]) - 1.2).toFixed(1));
  el.setAttribute("width", "2.4");
  el.setAttribute("height", "2.4");
  el.setAttribute("fill", OUTLINE);
  
  
  mapGroup.appendChild(el);
});

tickLongitudes.forEach(function(lon, i){
  const nudge = [0, 3, 6, 3, 0][i];
  const t = document.createElementNS(NS, "line");
  t.setAttribute("x1", x(lon));
  t.setAttribute("x2", x(lon));
  t.setAttribute("y1", "710");
  t.setAttribute("y2", "716");
  t.setAttribute("stroke", "#333333");
  t.setAttribute("stroke-width", "1.4");
  
  
  axisGroup.appendChild(t);
  const l = document.createElementNS(NS, "text");
  l.setAttribute("x", x(lon) + nudge);
  l.setAttribute("y", "743");
  l.setAttribute("text-anchor", "middle");
  l.setAttribute("fill", "#4D4D4D");
  l.setAttribute("style", "font-size:23.3px");
  l.textContent = tickLabels[i];
  
  
  axisGroup.appendChild(l);
});

legendLabels.forEach(function(label, i){
  const top = 391.5 + i * 46.1;
  const r = document.createElementNS(NS, "rect");
  r.setAttribute("x", "1190.5");
  r.setAttribute("y", top);
  r.setAttribute("width", "42");
  r.setAttribute("height", "42.5");
  r.setAttribute("fill", legendColors[i]);
  r.setAttribute("stroke", OUTLINE);
  r.setAttribute("stroke-width", "1.6");
  
  
  legendGroup.appendChild(r);
  const t = document.createElementNS(NS, "text");
  t.setAttribute("x", "1249");
  t.setAttribute("y", top + 30);
  t.setAttribute("fill", "#000");
  t.setAttribute("style", "font-size:23.5px");
  t.textContent = label;
  
  
  legendGroup.appendChild(t);
});
</script>
</body>
</html>
